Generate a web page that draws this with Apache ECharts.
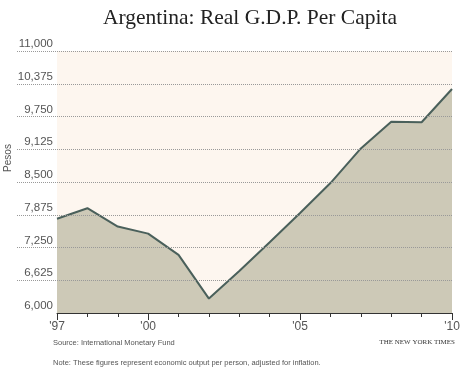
<!DOCTYPE html>
<html>
<head>
<meta charset="utf-8">
<script src="https://cdn.jsdelivr.net/npm/echarts@6/dist/echarts.min.js"></script>
<style>html,body{margin:0;padding:0;background:#fff;}#c{width:460px;height:373px;}</style>
</head>
<body>
<div id="c"></div>
<script>
var years = ['1997','1998','1999','2000','2001','2002','2003','2004','2005','2006','2007','2008','2009','2010'];
var yearLabels = {'1997':"'97",'2000':"'00",'2005':"'05",'2010':"'10"};
var gdpPerCapita = [7800, 8000, 7650, 7515, 7110, 6275, 6800, 7350, 7910, 8480, 9140, 9650, 9640, 10275];
var yMin = 6000, yMax = 11000, yStep = 625;

var chart = echarts.init(document.getElementById('c'), null, {renderer:'canvas'});
var sans = 'Liberation Sans, Arial, sans-serif';
chart.setOption({
  animation:false,
  backgroundColor:'#ffffff',
  title:{
    text:'Argentina: Real G.D.P. Per Capita',
    left:245, top:2, textAlign:'center',
    textStyle:{fontFamily:'Liberation Serif, Times New Roman, serif', fontSize:21.5, fontWeight:'normal', color:'#222'}
  },
  grid:[
    {left:57, right:8, top:51, height:262, show:true, backgroundColor:'#fdf6ef', borderWidth:0, outerBoundsMode:'none', containLabel:false},
    {left:17, right:8, top:51, height:262, show:false, outerBoundsMode:'none', containLabel:false}
  ],
  xAxis:[
    {gridIndex:0, type:'category', data:years, boundaryGap:false,
     axisLine:{lineStyle:{color:'#333', width:1}},
     axisTick:{show:true, length:4, inside:false, lineStyle:{color:'#333'}},
     axisLabel:{show:true, interval:0, margin:8, fontFamily:sans, fontSize:12, color:'#555',
       formatter:function(v){return yearLabels[v]||'';}}
    },
    {gridIndex:0, type:'category', data:years, boundaryGap:false, position:'bottom',
     axisLine:{show:false},
     axisTick:{show:true, length:7, lineStyle:{color:'#333'},
       interval:function(i,v){return !!yearLabels[v];}},
     axisLabel:{show:false}
    },
    {gridIndex:1, type:'value', show:false, min:0, max:1}
  ],
  yAxis:[
    {gridIndex:0, type:'value', min:yMin, max:yMax, interval:yStep,
     axisLine:{show:false}, axisTick:{show:false}, axisLabel:{show:false}, splitLine:{show:false}
    },
    {gridIndex:1, type:'value', min:yMin, max:yMax, interval:yStep, z:5,
     axisLine:{show:false}, axisTick:{show:false},
     axisLabel:{inside:true, align:'right', margin:36, verticalAlign:'bottom', padding:[0,0,1,0],
       fontFamily:sans, fontSize:11.5, color:'#555',
       formatter:function(v){return v.toLocaleString('en-US');}},
     splitLine:{show:true, showMinLine:false, lineStyle:{color:'#999', type:[1,1], width:1}}
    }
  ],
  series:[{
    type:'line', xAxisIndex:0, yAxisIndex:0, data:gdpPerCapita,
    symbol:'none', z:2,
    lineStyle:{color:'#4a605b', width:2},
    areaStyle:{color:'#cdc9b7', opacity:1}
  }],
  graphic:[
    {type:'text', x:8, y:158, rotation:Math.PI/2, style:{text:'Pesos', font:'10px Liberation Sans, Arial, sans-serif', fill:'#555', align:'center', verticalAlign:'middle'}},
    {type:'text', left:53, top:339, style:{text:'Source: International Monetary Fund', font:'7.5px Liberation Sans, Arial, sans-serif', fill:'#555'}},
    {type:'text', right:5, top:339, style:{text:'THE NEW YORK TIMES', font:'7px Liberation Serif, Times New Roman, serif', fill:'#333'}},
    {type:'text', left:53, top:359, style:{text:'Note: These figures represent economic output per person, adjusted for inflation.', font:'7.5px Liberation Sans, Arial, sans-serif', fill:'#555'}}
  ]
});
</script>
</body>
</html>
